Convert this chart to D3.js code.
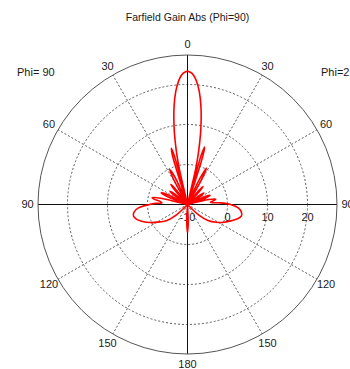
<!DOCTYPE html>
<html>
<head>
<meta charset="utf-8">
<script src="https://cdn.jsdelivr.net/npm/d3@7"></script>
<style>
  html, body { margin: 0; padding: 0; background: #fff; }
  svg { display: block; }
  text { font-family: "Liberation Sans", Arial, sans-serif; fill: #1a1a1a; }
</style>
</head>
<body>
<script>
// Gain (dBi) versus theta (deg) for the two half-cuts of the Phi=90 plane
const theta90 = [0, 2, 4, 6, 8, 10, 11, 12, 13, 14,
  15, 16, 17, 18.5,
  22, 25, 27, 29, 31,
  35, 38, 40, 42, 45,
  48, 51, 53, 55, 58,
  61, 64, 66, 68, 71,
  74, 77, 79, 81, 83, 86,
  88, 90, 94, 98, 102, 106, 110, 116, 122, 128, 133, 137,
  176, 178, 180];
const gain90 = [23.4, 22.8, 21.1, 18.3, 14.3, 9.2, 6.2, 3.0, -1, -10,
  2, 4.6, 3, -10,
  -10, -2, -0.2, -3, -10,
  -10, -5, -3.5, -6, -10,
  -10, -5.5, -4.5, -5.5, -10,
  -10, -4, -2.8, -4, -10,
  -10, -3, -1, -1.5, -3, -3.6,
  -2, -0.5, 2.3, 3.5, 3.8, 3.3, 2.2, 0.3, -1.8, -3.5, -6, -10,
  -10, -5, -3];

const theta270 = [0, 2, 4, 6, 8, 10, 11, 12, 13, 14,
  15.5, 16.5, 17.5, 19,
  23, 25.5, 27.5, 29.5, 32,
  36, 39, 41, 43, 46,
  50, 53, 55, 57, 60,
  63, 66, 68, 70, 73,
  75, 77, 79, 81, 83, 85,
  87, 90, 94, 98, 102, 106, 110, 116, 122, 128, 133, 137,
  176, 178, 180];
const gain270 = [23.4, 22.8, 21.1, 18.3, 14.3, 9.2, 6.2, 3.0, -1, -10,
  2.5, 5, 3, -10,
  -10, -3, 0.3, -3, -10,
  -10, -5.5, -4, -6.5, -10,
  -10, -6, -5, -6, -10,
  -10, -5, -3.9, -5, -10,
  -10, -4.5, -2.8, -3.2, -4, -4.2,
  -2, 0.8, 2.8, 3.6, 3.8, 3.0, 1.8, 0.1, -1.6, -3.5, -6, -10,
  -10, -5, -3];

// Radial grid (dB) and angular grid (deg)
const ringTicks = [-10, 0, 10, 20];
const outerLevel = 27.375;
const spokeAngles = [0, 30, 60, 90, 120, 150, 180, 210, 240, 270, 300, 330];
const angleLabels = [0, 30, 60, 90, 120, 150, 180];

const W = 350, H = 369;
const cx = 187.5, cy = 204.5;

const svg = d3.select("body").append("svg")
  .attr("width", W).attr("height", H);

svg.append("rect").attr("width", W).attr("height", H).attr("fill", "#fff");

const r = d3.scaleLinear().domain([-10, 20]).range([0, 120]);
const rc = g => Math.max(0, r(g));
const R = r(outerLevel);

// Title and cut labels
svg.append("text").attr("x", cx).attr("y", 21)
  .attr("text-anchor", "middle").attr("font-size", 10.5)
  .text("Farfield Gain Abs (Phi=90)");
svg.append("text").attr("x", 17).attr("y", 76)
  .attr("font-size", 11).text("Phi= 90");
svg.append("text").attr("x", 321).attr("y", 76)
  .attr("font-size", 11).text("Phi=270");

const g = svg.append("g").attr("transform", `translate(${cx},${cy})`);

// Dashed rings
g.selectAll("circle.ring").data(ringTicks.filter(d => rc(d) > 0))
  .join("circle").attr("class", "ring")
  .attr("r", d => rc(d))
  .attr("fill", "none").attr("stroke", "#5a5a5a")
  .attr("stroke-width", 1).attr("stroke-dasharray", "2,2");

// Dashed spokes every 30 deg (axes drawn solid below)
g.selectAll("line.spoke").data(spokeAngles.filter(a => a % 90 !== 0))
  .join("line").attr("class", "spoke")
  .attr("x1", 0).attr("y1", 0)
  .attr("x2", a => R * Math.sin(a * Math.PI / 180))
  .attr("y2", a => -R * Math.cos(a * Math.PI / 180))
  .attr("stroke", "#5a5a5a").attr("stroke-width", 1)
  .attr("stroke-dasharray", "2,2");

// Solid axes
g.append("line").attr("x1", -R).attr("x2", R).attr("y1", 0).attr("y2", 0)
  .attr("stroke", "#111").attr("stroke-width", 1);
g.append("line").attr("x1", 0).attr("x2", 0).attr("y1", -R).attr("y2", R)
  .attr("stroke", "#111").attr("stroke-width", 1);

// Outer circle
g.append("circle").attr("r", R).attr("fill", "none")
  .attr("stroke", "#555").attr("stroke-width", 1);

// Angle labels on both halves
const labR = R + 10.5;
const angData = [];
angleLabels.forEach(a => {
  angData.push({ a: -a, t: a });
  if (a !== 0 && a !== 180) angData.push({ a: a, t: a });
});
g.selectAll("text.ang").data(angData).join("text").attr("class", "ang")
  .attr("x", d => labR * Math.sin(d.a * Math.PI / 180))
  .attr("y", d => -labR * Math.cos(d.a * Math.PI / 180))
  .attr("dy", "0.35em")
  .attr("text-anchor", "middle").attr("font-size", 11)
  .text(d => d.t);

// Ring value labels
g.selectAll("text.ringlab").data(ringTicks).join("text").attr("class", "ringlab")
  .attr("x", d => rc(d)).attr("y", 12.5).attr("dy", "0.35em")
  .attr("text-anchor", "middle").attr("font-size", 11)
  .text(d => d);

// Pattern: Phi=90 half on the left, Phi=270 half on the right
const pts = [];
for (let i = theta90.length - 1; i >= 0; i--)
  pts.push([-theta90[i] * Math.PI / 180, rc(gain90[i])]);
for (let i = 0; i < theta270.length; i++)
  pts.push([theta270[i] * Math.PI / 180, rc(gain270[i])]);

const line = d3.lineRadial()
  .angle(d => d[0]).radius(d => d[1])
  .curve(d3.curveCatmullRom.alpha(0.5));

g.append("path").attr("d", line(pts))
  .attr("fill", "none").attr("stroke", "#ff0000")
  .attr("stroke-width", 1.6).attr("stroke-linejoin", "round");
</script>
</body>
</html>
